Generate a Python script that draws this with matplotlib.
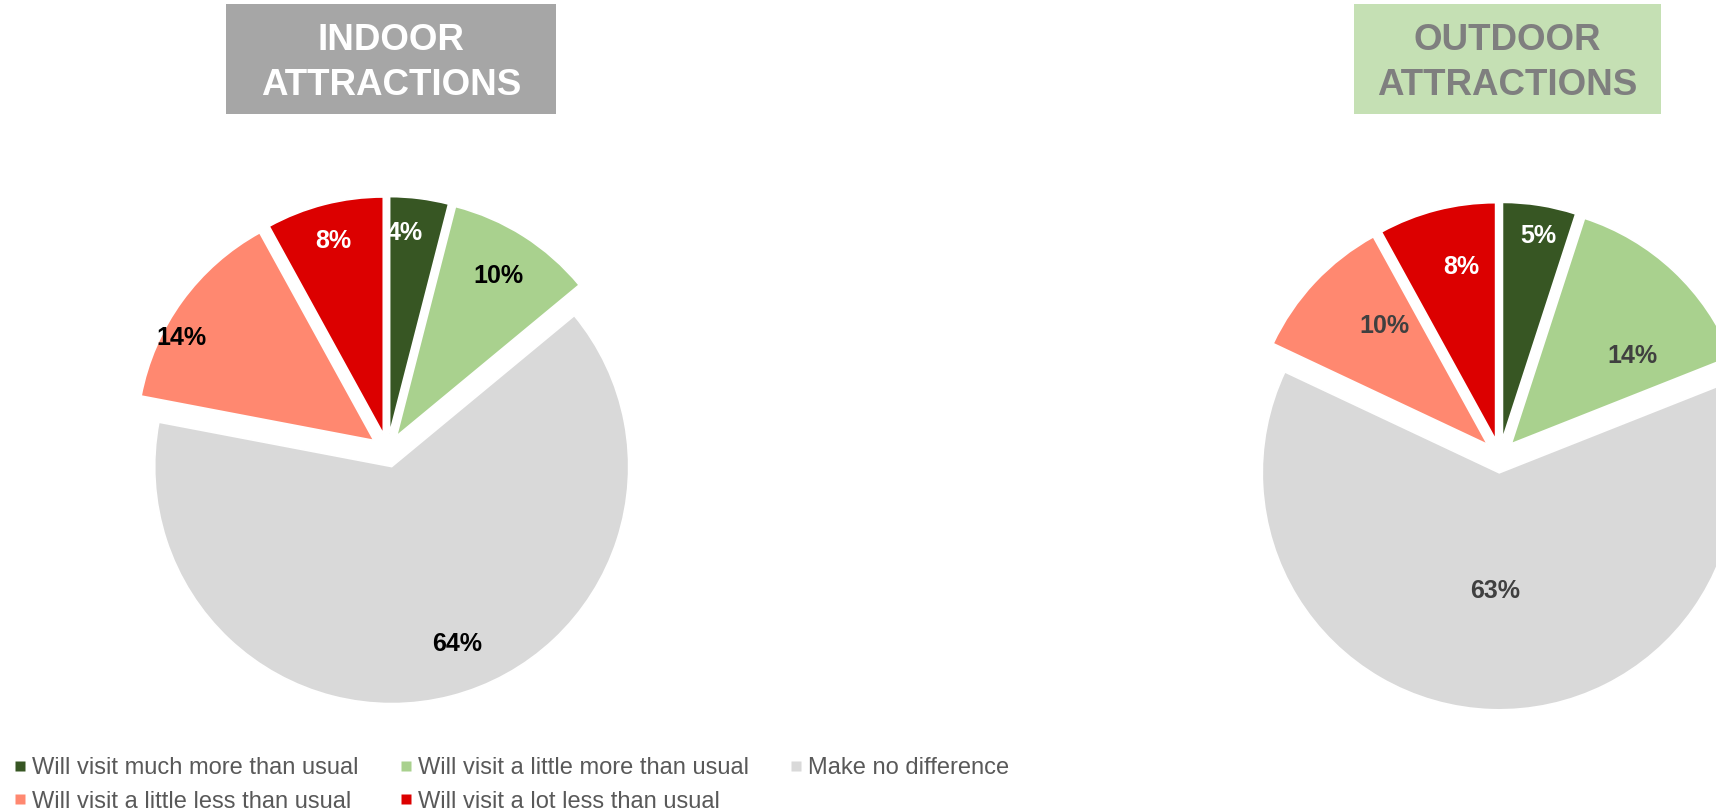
import matplotlib
matplotlib.use("Agg")
import matplotlib.pyplot as plt
import numpy as np
from matplotlib.lines import Line2D
from matplotlib.patches import Rectangle

plt.rcParams["font.family"] = ["Liberation Sans", "DejaVu Sans"]

# survey answers, share of respondents (%)
categories = [
    "Will visit much more than usual",
    "Will visit a little more than usual",
    "Make no difference",
    "Will visit a little less than usual",
    "Will visit a lot less than usual",
]
indoor = [4, 10, 64, 14, 8]
outdoor = [5, 14, 63, 10, 8]

colors = ["#375623", "#A9D18E", "#D9D9D9", "#FF8870", "#DC0000"]
indoor_label_colors = ["white", "black", "black", "black", "white"]
outdoor_label_colors = ["white", "#404040", "#404040", "#404040", "white"]

# where each percentage sits: fraction of radius, and clockwise turn off the bisector
indoor_label_dist = [0.85, 0.80, 0.80, 0.92, 0.84]
indoor_label_turn = [-2.8, 0, -5.9, -7.9, 0]
outdoor_label_dist = [0.87, 0.63, 0.50, 0.66, 0.745]
outdoor_label_turn = [1.1, 10.7, 0, 5.8, 3.1]

W, H = 1716, 810
fig = plt.figure(figsize=(W / 100, H / 100), dpi=100)
ax = fig.add_axes([0, 0, 1, 1])

RADIUS = 237
EXPLODE = 0.071  # fraction of the radius


def draw_pie(values, center, label_colors, dists, turns):
    # pie() offsets wedges by explode in data units, so scale by the radius
    wedges, _ = ax.pie(values, colors=colors, startangle=90, counterclock=False,
                       radius=RADIUS, center=center,
                       explode=[EXPLODE * RADIUS] * len(values),
                       wedgeprops=dict(edgecolor="white", linewidth=1.2))
    for w, v, c, d, t in zip(wedges, values, label_colors, dists, turns):
        theta = np.deg2rad((w.theta1 + w.theta2) / 2 - t)
        cx, cy = w.center
        ax.text(cx + d * w.r * np.cos(theta), cy + d * w.r * np.sin(theta), f"{v}%",
                ha="center", va="center", fontsize=18, fontweight="bold", color=c)


draw_pie(indoor, (387.5, H - 450.3), indoor_label_colors, indoor_label_dist, indoor_label_turn)
draw_pie(outdoor, (1499.8, H - 456.0), outdoor_label_colors, outdoor_label_dist, outdoor_label_turn)

ax.set_xlim(0, W)
ax.set_ylim(0, H)
ax.set_aspect("equal")
ax.axis("off")

# heading boxes above each pie
for x0, x1, face, tcolor, lines in [(226, 556, "#A6A6A6", "white", ["INDOOR", "ATTRACTIONS"]),
                                    (1354, 1661, "#C5E0B4", "#7F7F7F", ["OUTDOOR", "ATTRACTIONS"])]:
    fig.add_artist(Rectangle((x0 / W, 1 - 114 / H), (x1 - x0) / W, 110 / H,
                             transform=fig.transFigure, facecolor=face, edgecolor="none"))
    for line, base in zip(lines, [50, 95]):
        fig.text((x0 + x1) / 2 / W, 1 - base / H, line, ha="center", va="baseline",
                 fontsize=26.5, fontweight="bold", color=tcolor)

# legend filled column by column, so reorder to read across rows
order = [0, 3, 1, 4, 2]
handles = [Line2D([], [], marker="s", linestyle="", markersize=6.5,
                  markerfacecolor=colors[i], markeredgecolor="none") for i in order]
fig.legend(handles, [categories[i] for i in order], ncol=3, loc="upper left",
           bbox_to_anchor=(0.0075, 1 - 757 / H), frameon=False, fontsize=17,
           handlelength=0.6, handletextpad=0.2, columnspacing=1.72, labelspacing=0.49,
           borderpad=0, borderaxespad=0, labelcolor="#595959")

fig.savefig("out.png", dpi=100)
